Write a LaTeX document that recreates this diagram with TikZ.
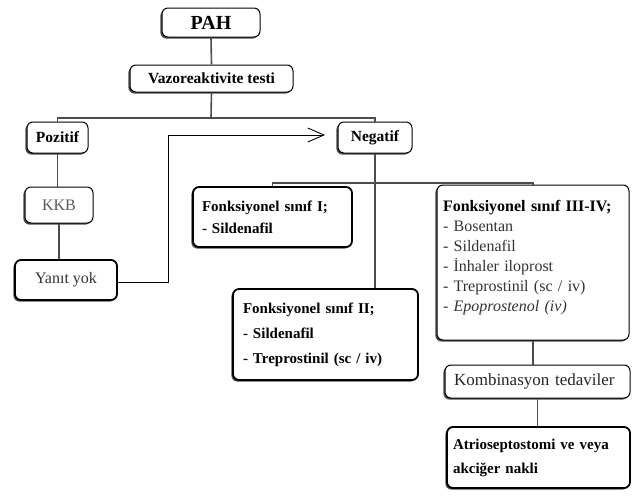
\documentclass[tikz,border=0pt]{standalone}
\usepackage{fontspec}
\setmainfont{Liberation Serif}
\usetikzlibrary{shadows,arrows.meta}
\tikzset{
  box/.style={draw=black, line width=1pt, rounded corners=6pt, fill=white,
    inner ysep=2pt,
    drop shadow={shadow xshift=-1.6pt, shadow yshift=-1.6pt, fill=black!70, opacity=1},
    font=\fontsize{16}{20}\selectfont},
  thickbox/.style={box, line width=1.8pt},
  sz/.style 2 args={minimum width=#1, minimum height=#2},
  conn/.style={draw=black!70, line width=1.6pt},
  arr/.style={draw=black, line width=0.9pt, -{Straight Barb[length=16pt,width=14pt,line width=0.9pt]}},
}
\begin{document}
\begin{tikzpicture}[x=1pt,y=-1pt]
\useasboundingbox (0,0) rectangle (633,498);

\node[box, sz={98}{29}, inner sep=0pt, font=\fontsize{20}{22}\selectfont\bfseries] (pah) at (211,22.5) {PAH};
\node[box, sz={163}{27}, inner sep=0pt, font=\fontsize{15.5}{18}\selectfont\bfseries] (vazo) at (211.5,78.5) {Vazoreaktivite testi};
\node[box, sz={61}{31}, inner sep=0pt, font=\fontsize{15.5}{18}\selectfont\bfseries] (poz) at (57.5,137.5) {Pozitif};
\node[box, sz={74}{31}, inner sep=0pt, font=\fontsize{15.5}{18}\selectfont\bfseries] (neg) at (375,137.5) {Negatif};
\node[box, sz={68}{36}, inner sep=0pt, text=black!65] (kkb) at (59,205) {KKB};
\node[thickbox, sz={102}{40}, inner sep=0pt, text=black!80] (yanit) at (66,280) {Yanıt yok};

\node[thickbox, sz={159}{60}, inner xsep=9pt, text width=141pt, align=left,
  font=\fontsize{15}{22}\selectfont\bfseries] (fs1) at (272.5,217)
  {Fonksiyonel sınıf I;\\- Sildenafil};
\node[thickbox, sz={185}{91}, inner xsep=10pt, text width=165pt, align=left,
  font=\fontsize{15}{25}\selectfont\bfseries] (fs2) at (325.5,334.5)
  {Fonksiyonel sınıf II;\\- Sildenafil\\- Treprostinil (sc / iv)};
\node[box, sz={192}{155}, inner xsep=6pt, text width=180pt, align=left,
  text=black!80] (fs3) at (533,262.5)
  {\textcolor{black}{\bfseries Fonksiyonel sınıf III-IV;}\\- Bosentan\\- Sildenafil\\- İnhaler iloprost\\- Treprostinil (sc / iv)\\- \textit{Epoprostenol (iv)}\\[-6pt]\mbox{}};
\node[box, sz={185}{33}, inner xsep=9pt, text width=167pt, align=left,
  font=\fontsize{17}{20}\selectfont, text=black!85] (komb) at (537.5,381.5) {Kombinasyon tedaviler};
\node[thickbox, sz={183}{61}, inner xsep=6pt, text width=171pt, align=left,
  font=\fontsize{15}{24}\selectfont\bfseries] (atrio) at (538.5,457.5)
  {Atrioseptostomi ve veya\\akciğer nakli};

\coordinate (h1) at (211,118);
\coordinate (h2) at (375,183);
\coordinate (bend1) at (168,282);
\coordinate (bend2) at (168,135);
\coordinate (tip) at (325,135);

\draw[conn] (pah.south) -- (vazo.north);
\draw[conn] (vazo.south) -- (h1);
\draw[conn] (poz.north) |- (h1);
\draw[conn] (neg.north) |- (h1);
\draw[conn] (poz.south) -- (poz.south |- kkb.north);
\draw[conn] (kkb.south) -- (kkb.south |- yanit.north);
\draw[arr] (yanit.east |- bend1) -- (bend1) -- (bend2) -- (tip);
\draw[conn] (neg.south) -- (neg.south |- fs2.north);
\draw[conn] (fs1.north) |- (h2) -| (fs3.north);
\draw[conn] (fs3.south) -- (fs3.south |- komb.north);
\draw[conn] (komb.south) -- (komb.south |- atrio.north);
\end{tikzpicture}
\end{document}
